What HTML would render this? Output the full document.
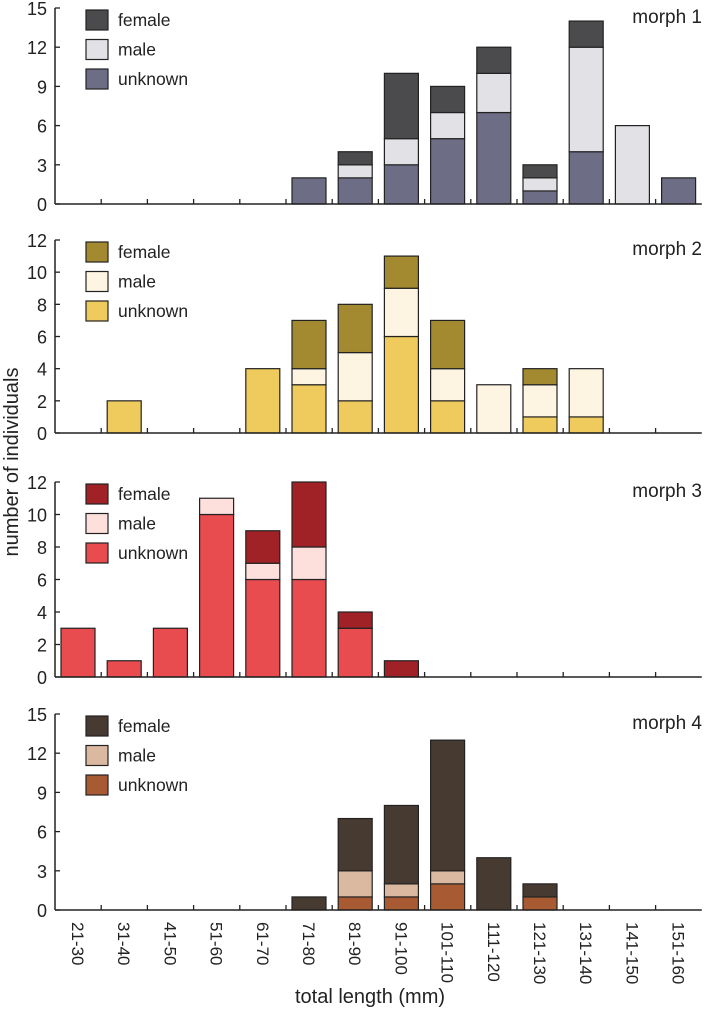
<!DOCTYPE html>
<html><head><meta charset="utf-8"><style>
html,body{margin:0;padding:0;background:#fff}
svg{display:block;font-family:"Liberation Sans",Arial,sans-serif}
</style></head><body>
<svg id="c" width="709" height="1010"></svg>
<script>
const categories=["21-30","31-40","41-50","51-60","61-70","71-80","81-90","91-100","101-110","111-120","121-130","131-140","141-150","151-160"];
const m1Unknown=[0,0,0,0,0,2,2,3,5,7,1,4,0,2];
const m1Male=[0,0,0,0,0,0,1,2,2,3,1,8,6,0];
const m1Female=[0,0,0,0,0,0,1,5,2,2,1,2,0,0];
const m2Unknown=[0,2,0,0,4,3,2,6,2,0,1,1,0,0];
const m2Male=[0,0,0,0,0,1,3,3,2,3,2,3,0,0];
const m2Female=[0,0,0,0,0,3,3,2,3,0,1,0,0,0];
const m3Unknown=[3,1,3,10,6,6,3,0,0,0,0,0,0,0];
const m3Male=[0,0,0,1,1,2,0,0,0,0,0,0,0,0];
const m3Female=[0,0,0,0,2,4,1,1,0,0,0,0,0,0];
const m4Unknown=[0,0,0,0,0,0,1,1,2,0,1,0,0,0];
const m4Male=[0,0,0,0,0,0,2,1,1,0,0,0,0,0];
const m4Female=[0,0,0,0,0,1,4,6,10,4,1,0,0,0];
const yTicks1=[0,3,6,9,12,15],yTicks2=[0,2,4,6,8,10,12],yTicks3=[0,2,4,6,8,10,12],yTicks4=[0,3,6,9,12,15];
const NS="http://www.w3.org/2000/svg";
const svg=document.getElementById('c');
function mk(t,a,p){const e=document.createElementNS(NS,t);for(const k in a)e.setAttribute(k,a[k]);(p||svg).appendChild(e);return e;}
const panels=[
 {name:"morph 1",y0:204,yTop:8,max:15,ticks:yTicks1,u:m1Unknown,m:m1Male,f:m1Female,c:["#4b4b4d","#e1e1e6","#6e6d86"]},
 {name:"morph 2",y0:433,yTop:240,max:12,ticks:yTicks2,u:m2Unknown,m:m2Male,f:m2Female,c:["#a38a30","#fdf5e2","#eecb5c"]},
 {name:"morph 3",y0:677,yTop:482,max:12,ticks:yTicks3,u:m3Unknown,m:m3Male,f:m3Female,c:["#a02227","#fde0dc","#e84c4f"]},
 {name:"morph 4",y0:910,yTop:714,max:15,ticks:yTicks4,u:m4Unknown,m:m4Male,f:m4Female,c:["#473a31","#dbb8a0","#a85a32"]}];
const ax=55,step=46.2;
function xc(i){return ax+23+i*step;}
panels.forEach((p,pi)=>{
 const g=mk('g',{});
 
 
 const ys=v=>p.y0-(p.y0-p.yTop)*v/p.max;
 categories.forEach((c,i)=>{
  let base=0;
  [[p.u,2,'unknown'],[p.m,1,'male'],[p.f,0,'female']].forEach(([arr,ci,nm])=>{
   const v=arr[i]; if(!v)return;
   const r=mk('rect',{x:xc(i)-17,y:ys(base+v),width:34,height:ys(base)-ys(base+v),fill:p.c[ci],stroke:'#222','stroke-width':1.2},g);
   
   
   base+=v;
  });
 });
 mk('line',{x1:ax,y1:p.yTop,x2:ax,y2:p.y0,stroke:'#222','stroke-width':1.5},g);
 mk('line',{x1:ax,y1:p.y0,x2:ax+14*step,y2:p.y0,stroke:'#222','stroke-width':1.5},g);
 for(let i=1;i<14;i++)mk('line',{x1:ax+i*step,y1:p.y0,x2:ax+i*step,y2:p.y0-5,stroke:'#222','stroke-width':1.3},g);
 p.ticks.forEach(t=>{
  mk('line',{x1:ax,y1:ys(t),x2:ax+5,y2:ys(t),stroke:'#222','stroke-width':1.3},g);
  const tx=mk('text',{x:ax-8,y:ys(t)+7,'text-anchor':'end','font-size':18,fill:'#222'},g);tx.textContent=t;
 });
 const ml=mk('text',{x:702,y:p.yTop+15,'text-anchor':'end','font-size':19,fill:'#222'},g);ml.textContent=p.name;
 
 
 ["female","male","unknown"].forEach((nm,k)=>{
  const ly=p.yTop+2+k*29.5;
  const lg=mk('g',{},g);
  
  
  mk('rect',{x:86,y:ly,width:22,height:20,fill:p.c[k],stroke:'#222','stroke-width':1.2},lg);
  const t=mk('text',{x:118,y:ly+16,'font-size':17.5,fill:'#222'},lg);t.textContent=nm;
 });
});
categories.forEach((c,i)=>{
 const t=mk('text',{x:0,y:0,'font-size':17,fill:'#222',transform:`translate(${xc(i)-6},922) rotate(90)`});
 t.textContent=c;
 
 
});
const xt=mk('text',{x:370,y:1003,'text-anchor':'middle','font-size':20,fill:'#222'});xt.textContent="total length (mm)";


const yt=mk('text',{x:0,y:0,'text-anchor':'middle','font-size':20,fill:'#222',transform:'translate(18,462) rotate(-90)'});yt.textContent="number of individuals";


</script>
</body></html>
